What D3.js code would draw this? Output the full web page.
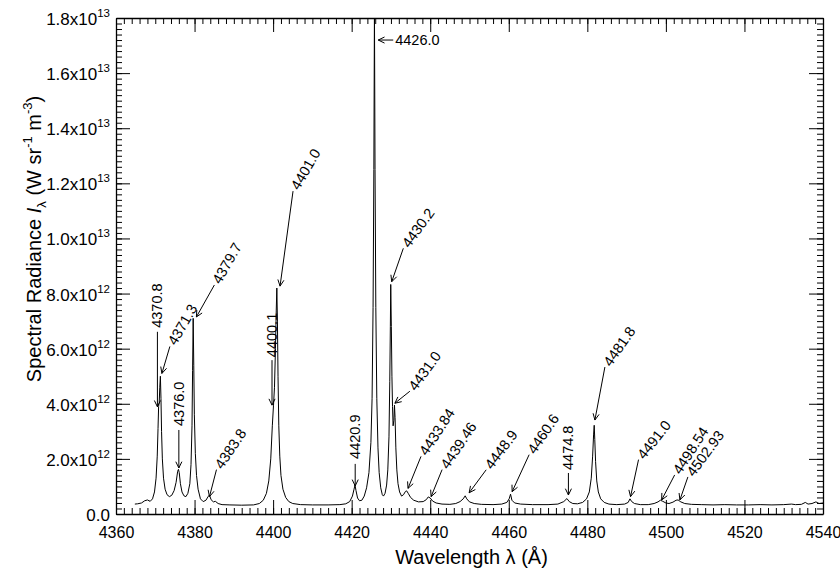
<!DOCTYPE html>
<html><head><meta charset="utf-8">
<script src="https://cdn.jsdelivr.net/npm/d3@7"></script>
<style>
body{margin:0;background:#fff}
svg{display:block}
text{font-family:"Liberation Sans",Arial,Helvetica,sans-serif;fill:#000}
</style></head><body>
<svg id="chart" width="840" height="572"></svg>
<script>
// Measured spectrum: wavelength (Å) and spectral radiance (units of 1e12 W sr^-1 m^-3)
const wavelengths = [
4364.8,4365.5,4366.5,4367.3,4368.0,4368.7,4369.3,4369.8,4370.2,4370.5,4370.7,4370.85,4371.0,4371.15,4371.3,4371.45,4371.6,4371.8,4372.1,4372.5,
4373.0,4373.6,4374.2,4374.8,4375.3,4375.7,4375.9,4376.1,4376.4,4376.8,4377.3,4377.8,4378.3,4378.8,4379.1,4379.35,4379.5,4379.65,4379.8,4379.95,
4380.2,4380.5,4380.9,4381.5,4382.2,4382.9,4383.4,4383.8,4384.2,4384.8,4385.3,4386.0,4387.0,4389,4392,4395,4396.5,4397.5,4398.3,4398.9,
4399.4,4399.8,4400.1,4400.35,4400.6,4400.8,4400.95,4401.1,4401.25,4401.45,4401.7,4402.0,4402.5,4403.2,4404.0,4405.0,4407,4410,4414,4417,
4418.5,4419.5,4420.2,4420.6,4420.85,4421.1,4421.5,4422.0,4422.6,4423.2,4423.8,4424.4,4424.9,4425.2,4425.45,4425.65,4425.8,4425.95,4426.15,4426.4,
4426.7,4427.0,4427.4,4427.8,4428.1,4428.5,4428.9,4429.2,4429.5,4429.7,4429.85,4429.95,4430.1,4430.25,4430.4,4430.55,4430.75,4430.9,4431.05,4431.25,
4431.5,4431.8,4432.2,4432.7,4433.2,4433.7,4434.0,4434.4,4435.0,4435.8,4437.0,4438.2,4439.0,4439.5,4440.0,4440.6,4441.5,4443,4445,4446.5,
4447.6,4448.4,4448.9,4449.3,4450.0,4451.2,4453,4456,4458.2,4459.5,4460.1,4460.45,4460.8,4461.5,4463,4466,4470,4472.5,4474.0,4474.8,
4475.4,4476.3,4477.5,4478.8,4479.8,4480.5,4481.0,4481.35,4481.6,4481.75,4481.9,4482.1,4482.4,4482.8,4483.4,4484.3,4485.5,4487.5,4489.5,4490.4,
4490.85,4491.3,4492.0,4493.5,4495.5,4497.0,4498.0,4498.6,4499.2,4500.0,4500.8,4501.8,4502.6,4503.1,4503.8,4504.8,4506.5,4509,4512,4515,
4518,4521,4524,4527,4530,4532,4533,4534.5,4535.5,4536.2,4537.2,4538.2,4539.0,4540
];
const radianceE12 = [
0.36,0.37,0.40,0.48,0.51,0.46,0.55,0.80,1.30,2.10,3.10,3.90,4.05,4.60,5.00,4.20,3.00,2.00,1.30,0.90,
0.70,0.63,0.68,0.85,1.15,1.55,1.62,1.50,1.10,0.80,0.66,0.63,0.75,1.10,1.80,3.20,5.20,7.10,5.40,3.60,
2.20,1.40,0.90,0.55,0.45,0.50,0.62,0.69,0.52,0.44,0.46,0.38,0.34,0.33,0.32,0.33,0.38,0.50,0.75,1.20,
2.00,3.20,3.95,4.60,6.00,7.40,8.20,7.00,5.00,3.20,2.10,1.40,0.90,0.60,0.45,0.38,0.34,0.33,0.33,0.34,
0.37,0.45,0.65,0.90,1.05,0.85,0.58,0.48,0.50,0.65,0.95,1.50,2.60,4.20,7.50,12.5,18.3,12.5,7.50,4.20,
2.40,1.50,0.95,0.70,0.65,0.75,1.05,1.60,2.80,4.80,6.80,8.33,6.80,5.00,3.90,3.20,3.40,3.95,3.50,2.40,
1.60,1.10,0.80,0.65,0.70,0.82,0.84,0.75,0.60,0.50,0.44,0.45,0.52,0.62,0.58,0.47,0.40,0.36,0.35,0.38,
0.45,0.55,0.66,0.55,0.44,0.38,0.35,0.34,0.36,0.42,0.55,0.72,0.50,0.40,0.36,0.34,0.34,0.36,0.45,0.56,
0.45,0.38,0.37,0.42,0.55,0.80,1.30,2.10,2.90,3.22,2.70,1.90,1.20,0.80,0.55,0.42,0.36,0.34,0.36,0.42,
0.55,0.45,0.38,0.34,0.34,0.38,0.44,0.50,0.46,0.40,0.38,0.43,0.50,0.51,0.44,0.38,0.35,0.34,0.33,0.34,
0.33,0.33,0.34,0.33,0.34,0.36,0.34,0.35,0.42,0.36,0.38,0.44,0.38,0.40
];

// Identified emission lines
const lineNames = ["4370.8","4371.3","4376.0","4379.7","4383.8","4400.1","4401.0","4420.9","4426.0","4430.2",
  "4431.0","4433.84","4439.46","4448.9","4460.6","4474.8","4481.8","4491.0","4498.54","4502.93"];
const lineWavelengths = [4370.8,4371.3,4376.0,4379.7,4383.8,4400.1,4401.0,4420.9,4426.0,4430.2,
  4431.0,4433.84,4439.46,4448.9,4460.6,4474.8,4481.8,4491.0,4498.54,4502.93];
// radiance level (1e12 units) where each arrow points
const arrowTipE12 = [3.89,5.10,1.67,7.15,0.63,3.95,8.27,1.02,17.2,8.43,
  4.02,0.93,0.63,0.77,0.81,0.69,3.41,0.63,0.51,0.51];

const xTicks = [4360,4380,4400,4420,4440,4460,4480,4500,4520,4540];
const yTicks = [0,2e12,4e12,6e12,8e12,1e13,1.2e13,1.4e13,1.6e13,1.8e13];

// arrow/label placement: shaft offset from tip (px), text angle, gap, x nudge
const labelLayout = [
  {dx:0,dy:-75,angle:-90,gap:4,pad:-1},
  {dx:8,dy:-27,angle:-60,gap:3,pad:1.5},
  {dx:0,dy:-38,angle:-90,gap:4,pad:0},
  {dx:18,dy:-32,angle:-60,gap:3,pad:3},
  {dx:7,dy:-27,angle:-56,gap:3,pad:0},
  {dx:0,dy:-45,angle:-90,gap:3,pad:-1.5},
  {dx:13,dy:-95,angle:-60,gap:3,pad:3},
  {dx:0,dy:-22,angle:-90,gap:5,pad:0},
  {dx:15,dy:0,angle:0,gap:2,pad:3},
  {dx:11.6,dy:-33.4,angle:-54,gap:3,pad:0},
  {dx:15,dy:-12,angle:-54,gap:3,pad:0},
  {dx:13,dy:-32,angle:-57,gap:3,pad:2},
  {dx:11,dy:-27,angle:-56,gap:3,pad:3},
  {dx:17,dy:-23,angle:-53.5,gap:3,pad:4},
  {dx:17,dy:-37,angle:-56,gap:3,pad:1},
  {dx:0,dy:-22,angle:-90,gap:3,pad:1.5},
  {dx:10,dy:-53,angle:-55,gap:3,pad:0.5},
  {dx:8,dy:-37,angle:-52,gap:3,pad:0},
  {dx:13,dy:-25,angle:-57,gap:3,pad:1.5},
  {dx:8,dy:-23,angle:-53.5,gap:3,pad:2.5}
];

const svg = d3.select("#chart");
const L = 116, R = 823, T = 18, B = 514;
const x = d3.scaleLinear().domain([4360,4540]).range([L,R]);
const y = d3.scaleLinear().domain([0,1.8e13]).range([B,T]);

svg.append("defs").append("clipPath").attr("id","plotArea")
  .append("rect").attr("x",L).attr("y",T).attr("width",R-L).attr("height",B-T);

// spectrum trace
const pts = wavelengths.map((w,i)=>[w, radianceE12[i]*1e12]);
svg.append("path").datum(pts)
  .attr("clip-path","url(#plotArea)")
  .attr("fill","none").attr("stroke","#000").attr("stroke-width",1)
  .attr("stroke-linejoin","round")
  .attr("d", d3.line().x(d=>x(d[0])).y(d=>y(d[1])));

// axes: majors 14px, minors 6px, all pointing inward
const xMinor = d3.range(4360,4541,2);
const yMinor = d3.range(0,1.8e13+1,2e11);
function styleAxis(g, keepDomain){
  g.selectAll(".tick line").attr("stroke","#000").attr("stroke-width",1);
  if(!keepDomain) g.select(".domain").remove();
  else g.select(".domain").attr("stroke","#000").attr("stroke-width",1.3);
  g.selectAll(".tick text").remove();
}
const axes = svg.append("g");
// bottom
axes.append("g").attr("transform",`translate(0,${B})`)
  .call(d3.axisBottom(x).tickValues(xMinor).tickSize(-6).tickSizeOuter(0).tickFormat(""))
  .call(g=>styleAxis(g,false));
const xb = axes.append("g").attr("transform",`translate(0,${B})`)
  .call(d3.axisBottom(x).tickValues(xTicks).tickSize(-14).tickSizeOuter(0).tickPadding(13).tickFormat(d3.format("d")));
xb.select(".domain").attr("stroke","#000").attr("stroke-width",1.3);
xb.selectAll(".tick line").attr("stroke","#000");
xb.selectAll(".tick text").attr("font-size","16px").attr("font-family","Liberation Sans, Arial, sans-serif").attr("fill","#000");
// top
axes.append("g").attr("transform",`translate(0,${T})`)
  .call(d3.axisTop(x).tickValues(xMinor).tickSize(-6).tickSizeOuter(0).tickFormat(""))
  .call(g=>styleAxis(g,false));
axes.append("g").attr("transform",`translate(0,${T})`)
  .call(d3.axisTop(x).tickValues(xTicks).tickSize(-14).tickSizeOuter(0).tickFormat(""))
  .call(g=>styleAxis(g,true));
// left
axes.append("g").attr("transform",`translate(${L},0)`)
  .call(d3.axisLeft(y).tickValues(yMinor).tickSize(-6).tickSizeOuter(0).tickFormat(""))
  .call(g=>styleAxis(g,false));
axes.append("g").attr("transform",`translate(${L},0)`)
  .call(d3.axisLeft(y).tickValues(yTicks).tickSize(-14).tickSizeOuter(0).tickFormat(""))
  .call(g=>styleAxis(g,true));
// right
axes.append("g").attr("transform",`translate(${R},0)`)
  .call(d3.axisRight(y).tickValues(yMinor).tickSize(-6).tickSizeOuter(0).tickFormat(""))
  .call(g=>styleAxis(g,false));
axes.append("g").attr("transform",`translate(${R},0)`)
  .call(d3.axisRight(y).tickValues(yTicks).tickSize(-14).tickSizeOuter(0).tickFormat(""))
  .call(g=>styleAxis(g,true));

// y tick labels in m.m x 10^e form
const yLab = svg.append("g").attr("font-size","17px");
yTicks.forEach(v=>{
  const t = yLab.append("text").attr("x",L-6).attr("y",y(v)+7).attr("text-anchor","end");
  if(v===0){ t.text("0.0"); return; }
  const e = Math.floor(Math.log10(v)+1e-9);
  const m = (v/Math.pow(10,e)).toFixed(1);
  t.append("tspan").text(m+"x10");
  t.append("tspan").attr("font-size","11.5px").attr("dy",-8).text(String(e));
});

// axis titles
const yt = svg.append("text").attr("font-size","20px").attr("text-anchor","middle")
  .attr("transform",`translate(41,${(T+B)/2-27}) rotate(-90)`);
yt.append("tspan").text("Spectral Radiance ");
yt.append("tspan").attr("font-style","italic").text("I");
yt.append("tspan").attr("font-size","13px").attr("dy",5).text("λ");
yt.append("tspan").attr("dy",-5).text(" (W sr");
yt.append("tspan").attr("font-size","13px").attr("dy",-9).text("-1");
yt.append("tspan").attr("dy",9).text(" m");
yt.append("tspan").attr("font-size","13px").attr("dy",-9).text("-3");
yt.append("tspan").attr("dy",9).text(")");

svg.append("text").attr("font-size","20px").attr("text-anchor","middle")
  .attr("x",(L+R)/2+2).attr("y",564).text("Wavelength λ (Å)");

// line identification arrows and labels
const ann = svg.append("g");
lineNames.forEach((name,i)=>{
  const lay = labelLayout[i];
  const tx = x(lineWavelengths[i]) + lay.pad, ty = y(arrowTipE12[i]*1e12);
  const sx = tx + lay.dx, sy = ty + lay.dy;
  ann.append("line").attr("x1",sx).attr("y1",sy).attr("x2",tx).attr("y2",ty)
    .attr("stroke","#000").attr("stroke-width",1);
  const a = Math.atan2(ty-sy, tx-sx), hl = 7, ha = 0.45;
  ann.append("path")
    .attr("d",`M${tx-hl*Math.cos(a-ha)},${ty-hl*Math.sin(a-ha)}L${tx},${ty}L${tx-hl*Math.cos(a+ha)},${ty-hl*Math.sin(a+ha)}`)
    .attr("fill","none").attr("stroke","#000").attr("stroke-width",1);
  const th = lay.angle*Math.PI/180;
  const gx = sx + lay.gap*Math.cos(th), gy = sy + lay.gap*Math.sin(th);
  ann.append("text").attr("font-size","14.5px")
    .attr("transform",`translate(${gx},${gy}) rotate(${lay.angle})`)
    .attr("dominant-baseline","central").attr("text-anchor","start")
    .text(name);
});
</script></body></html>
